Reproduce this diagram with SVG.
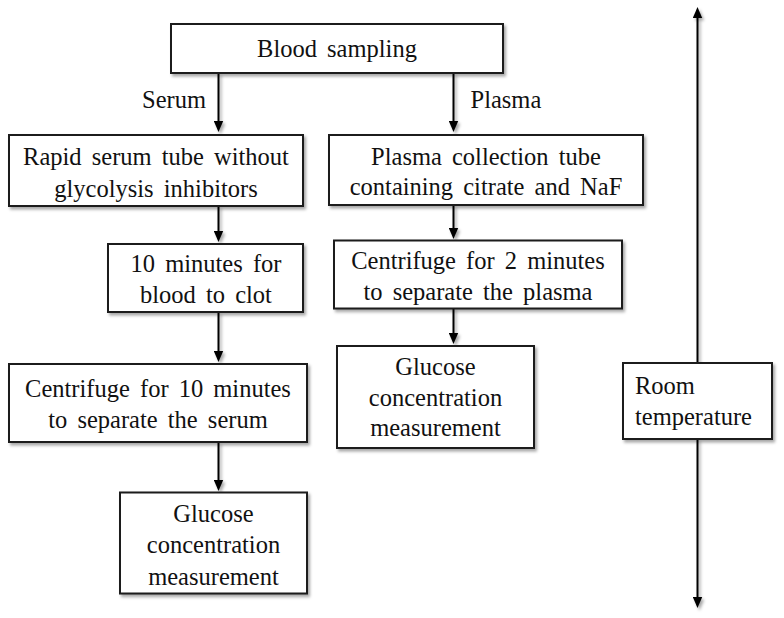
<svg xmlns="http://www.w3.org/2000/svg" width="784" height="618" viewBox="0 0 784 618" font-family="Liberation Serif, Times New Roman, serif">
<defs>
<filter id="sh" filterUnits="userSpaceOnUse" x="0" y="0" width="784" height="618">
<feDropShadow dx="2" dy="2.5" stdDeviation="1.5" flood-color="#000" flood-opacity="0.35"/>
</filter>
<marker id="ah" markerUnits="userSpaceOnUse" markerWidth="11" markerHeight="10" refX="5" refY="5" orient="auto" viewBox="0 0 11 10">
<path d="M0,0.3 L11,5 L0,9.7 z" fill="#000"/>
</marker>
</defs>
<style>
.box{fill:#fff;stroke:#1a1a1a;stroke-width:2;filter:url(#sh)}
.t{font-size:24.5px;word-spacing:4px;fill:#111;text-anchor:middle}
.l{text-anchor:start}
.c{stroke:#000;stroke-width:2;fill:none;marker-end:url(#ah);filter:url(#sh)}
</style>
<rect width="784" height="618" fill="#fff"/>
<g id="connectors">
<line class="c" x1="218.5" y1="73" x2="218.5" y2="126"/>
<line class="c" x1="453.5" y1="73" x2="453.5" y2="126"/>
<line class="c" x1="218.5" y1="206" x2="218.5" y2="236"/>
<line class="c" x1="218.5" y1="312" x2="218.5" y2="356"/>
<line class="c" x1="218.5" y1="442" x2="218.5" y2="485"/>
<line class="c" x1="453.5" y1="205" x2="453.5" y2="233"/>
<line class="c" x1="453.5" y1="308" x2="453.5" y2="338"/>
<line class="c" x1="697.5" y1="363" x2="697.5" y2="13"/>
<line class="c" x1="697.5" y1="439" x2="697.5" y2="602"/>
<text class="t" x="174" y="108">Serum</text>
<text class="t l" x="470.5" y="108">Plasma</text>
</g>
<g id="blood">
<rect class="box" x="171" y="24" width="332" height="49"/>
<text class="t" x="337" y="57">Blood sampling</text>
</g>
<g id="rapid">
<rect class="box" x="9" y="135" width="294" height="71"/>
<text class="t" x="156" y="165">Rapid serum tube without</text>
<text class="t" x="156" y="196.5">glycolysis inhibitors</text>
</g>
<g id="plasmatube">
<rect class="box" x="329" y="135" width="314" height="70"/>
<text class="t" x="486" y="164.5">Plasma collection tube</text>
<text class="t" x="486" y="195">containing citrate and NaF</text>
</g>
<g id="clot">
<rect class="box" x="108" y="244" width="195" height="68"/>
<text class="t" x="206" y="271.5">10 minutes for</text>
<text class="t" x="206" y="303">blood to clot</text>
</g>
<g id="cent10">
<rect class="box" x="9" y="364" width="298" height="78"/>
<text class="t" x="158" y="396.5">Centrifuge for 10 minutes</text>
<text class="t" x="158" y="428">to separate the serum</text>
</g>
<g id="gluc1">
<rect class="box" x="120" y="492.5" width="187" height="101"/>
<text class="t" x="213.5" y="521.5">Glucose</text>
<text class="t" x="213.5" y="553">concentration</text>
<text class="t" x="213.5" y="585">measurement</text>
</g>
<g id="cent2">
<rect class="box" x="334" y="240.5" width="288" height="68"/>
<text class="t" x="478" y="268.5">Centrifuge for 2 minutes</text>
<text class="t" x="478" y="300">to separate the plasma</text>
</g>
<g id="gluc2">
<rect class="box" x="337" y="346" width="197" height="102"/>
<text class="t" x="435.5" y="375">Glucose</text>
<text class="t" x="435.5" y="405.5">concentration</text>
<text class="t" x="435.5" y="436">measurement</text>
</g>
<g id="room">
<rect class="box" x="623" y="363" width="149" height="76"/>
<text class="t l" x="635" y="394">Room</text>
<text class="t l" x="635" y="425">temperature</text>
</g>
</svg>
